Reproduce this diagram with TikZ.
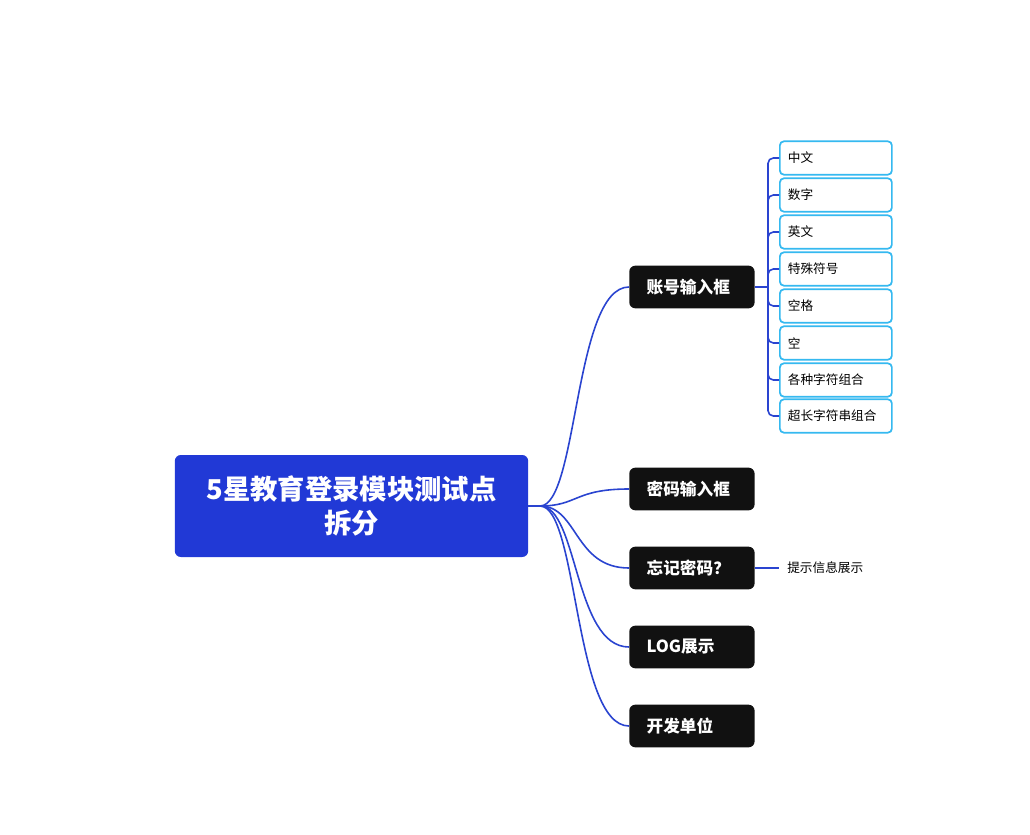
\documentclass[tikz,border=0pt]{standalone}
\usepackage{fontspec}
\setmainfont{Noto Sans CJK SC}
\usetikzlibrary{positioning}
\definecolor{mainblue}{HTML}{2139D6}
\definecolor{linkblue}{HTML}{2A44D0}
\definecolor{leafblue}{HTML}{35B9F0}
\definecolor{topicblack}{HTML}{111111}
\tikzset{
  mainbox/.style={fill=mainblue,rounded corners=4.5pt,text=white,font=\bfseries\fontsize{20.5}{25}\selectfont,
    minimum width=265pt,minimum height=76.5pt,align=center},
  topicbox/.style={fill=topicblack,rounded corners=4.5pt,text=white,font=\bfseries\fontsize{12.5}{15}\selectfont,
    minimum width=94pt,minimum height=32pt,inner xsep=13pt,text width=68pt,align=left,anchor=west},
  leafbox/.style={draw=leafblue,line width=1.3pt,fill=white,rounded corners=3pt,font=\fontsize{9.5}{12}\selectfont,
    minimum width=84pt,minimum height=25pt,inner xsep=5.5pt,text width=72pt,align=left,anchor=west},
  link/.style={draw=linkblue,line width=1.2pt},
}
\begin{document}
\begin{tikzpicture}[x=0.75pt,y=-0.75pt]
\useasboundingbox (0,0) rectangle (1030,834);
\node[mainbox] (main) at (351.5,506) {5星教育登录模块测试点\\拆分};
\coordinate (hub) at (540,506);
\draw[link] (main.east) -- (hub);
% topics
\node[topicbox] (zh) at (629,287) {账号输入框};
\node[topicbox] (mm) at (629,489) {密码输入框};
\node[topicbox] (wj) at (629,568) {忘记密码？};
\node[topicbox] (log) at (629,647) {LOG展示};
\node[topicbox] (kf) at (629,726) {开发单位};
\foreach \t in {zh,mm,wj,log,kf}
  \draw[link] (hub) .. controls +(38,0) and +(-55,0) .. (\t.west);
% leaves
\coordinate (fork) at (768,287);
\draw[link] (zh.east) -- (fork);
\foreach \n/\y/\txt in {l1/158/中文,l2/195/数字,l3/232/英文,l4/269/特殊符号,l5/306/空格,l6/343/空,l7/380/各种字符组合,l8/416/超长字符串组合}{
  \node[leafbox] (\n) at (779,\y) {\txt};
  \draw[link,rounded corners=4pt] (fork) |- (\n.west);
}
\node[font=\fontsize{9.5}{12}\selectfont,anchor=west,inner sep=0pt] (ts) at (787,568) {提示信息展示};
\draw[link] (wj.east) -- (779,568);
\end{tikzpicture}
\end{document}
